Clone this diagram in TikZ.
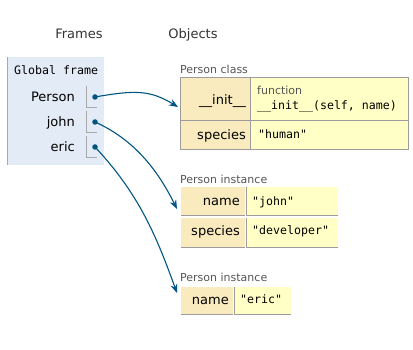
\documentclass[tikz,border=0pt]{standalone}
\usepackage{fontspec}
\setmainfont{DejaVu Sans}
\newfontfamily\codefont{DejaVu Sans Mono}
\usetikzlibrary{arrows.meta}
\definecolor{framebg}{HTML}{E2EBF6}
\definecolor{keybg}{HTML}{FAEBBF}
\definecolor{valbg}{HTML}{FFFFC6}
\definecolor{gridgrey}{HTML}{9C9C9C}
\definecolor{slotgrey}{HTML}{A8A8A8}
\definecolor{refblue}{HTML}{005583}
\definecolor{labelgrey}{HTML}{555555}
\definecolor{headgrey}{HTML}{333333}

\begin{document}
\begin{tikzpicture}[x=1pt,y=-1pt,
  txt/.style={inner sep=0pt, font=\fontsize{13}{15}\selectfont},
  code/.style={inner sep=0pt, font=\codefont\fontsize{11.6}{14}\selectfont},
  small/.style={inner sep=0pt, font=\fontsize{11}{13}\selectfont, text=labelgrey},
  head/.style={inner sep=0pt, font=\fontsize{13}{15}\selectfont, text=headgrey},
  cellbox/.style={rectangle, inner sep=0pt, outer sep=0pt, anchor=north west},
  keycell/.style={cellbox, fill=keybg},
  valcell/.style={cellbox, fill=valbg},
  grid/.style={draw=gridgrey, line width=1pt},
  slotline/.style={draw=slotgrey, line width=1pt},
  ref/.style={draw=refblue, line width=1.1pt, -{Stealth[length=9pt,width=7pt]}},
  dot/.style={circle, fill=refblue, inner sep=0pt, minimum size=5.5pt},
]
\useasboundingbox (0,0) rectangle (413,350);

% column headings
\node[head, anchor=base] (hframes) at (79,39) {Frames};
\node[head, anchor=base] (hobjects) at (193,39) {Objects};

% global frame
\node[cellbox, fill=framebg, minimum width=97pt, minimum height=108pt] (frame) at (7,57) {};
\draw[slotline] (frame.north west) -- (frame.south west);
\node[code, anchor=base west] (gf) at (14,75) {Global frame};

\node[txt, anchor=base east] (nperson) at (75,102) {Person};
\node[txt, anchor=base east] (njohn) at (75,127) {john};
\node[txt, anchor=base east] (neric) at (75,152) {eric};

\node[cellbox, minimum width=11pt, minimum height=22pt] (sperson) at (86,86) {};
\node[cellbox, minimum width=11pt, minimum height=22pt] (sjohn) at (86,111) {};
\node[cellbox, minimum width=11pt, minimum height=22pt] (seric) at (86,136) {};
\foreach \s in {sperson,sjohn,seric}
  \draw[slotline] (\s.north west) -- (\s.south west) -- (\s.south east);

% Person class
\node[small, anchor=base west] (lclass) at (180,74) {Person class};
\node[keycell, minimum width=70pt, minimum height=43pt] (cinitk) at (180,78) {};
\node[valcell, minimum width=158pt, minimum height=43pt] (cinitv) at (250,78) {};
\node[keycell, minimum width=70pt, minimum height=29pt] (cspk) at (180,121) {};
\node[valcell, minimum width=158pt, minimum height=29pt] (cspv) at (250,121) {};
\draw[grid] (cinitk.north west) rectangle (cspv.south east);
\draw[grid] (cinitv.north west) -- (cspv.south west);
\draw[grid] (cinitk.south west) -- (cinitv.south east);
\node[txt, anchor=base east] (kinit) at (246,105) {\_\_init\_\_};
\node[small, anchor=base west] (lfunc) at (257,95) {function};
\node[code, anchor=base west] (vinit) at (257,110) {\_\_init\_\_(self, name)};
\node[txt, anchor=base east] (kspc) at (246,140) {species};
\node[code, anchor=base west] (vspc) at (258,139) {"human"};

% Person instance: john
\node[small, anchor=base west] (linst1) at (180,184) {Person instance};
\node[keycell, minimum width=64pt, minimum height=29pt] (jnk) at (181,187) {};
\node[valcell, minimum width=92pt, minimum height=29pt] (jnv) at (246,187) {};
\node[keycell, minimum width=64pt, minimum height=30pt] (jsk) at (181,218) {};
\node[valcell, minimum width=92pt, minimum height=30pt] (jsv) at (246,218) {};
\draw[grid] (jnk.south west) -- (jnk.south east);
\draw[grid] (jnv.south west) -- (jnv.south east);
\draw[grid] (jnv.north west) -- (jnv.south west);
\draw[grid] (jsk.south west) -- (jsk.south east);
\draw[grid] (jsv.south west) -- (jsv.south east);
\draw[grid] (jsv.north west) -- (jsv.south west);
\node[txt, anchor=base east] (jkname) at (240,206) {name};
\node[code, anchor=base west] (jvname) at (252,206) {"john"};
\node[txt, anchor=base east] (jkspc) at (240,236) {species};
\node[code, anchor=base west] (jvspc) at (252,235) {"developer"};

% Person instance: eric
\node[small, anchor=base west] (linst2) at (180,282) {Person instance};
\node[keycell, minimum width=52pt, minimum height=28pt] (enk) at (181,287) {};
\node[valcell, minimum width=57pt, minimum height=28pt] (env) at (234,287) {};
\draw[grid] (enk.south west) -- (enk.south east);
\draw[grid] (env.south west) -- (env.south east);
\draw[grid] (env.north west) -- (env.south west);
\node[txt, anchor=base east] (ekname) at (229,305) {name};
\node[code, anchor=base west] (evname) at (240,304) {"eric"};

% references
\coordinate (tperson) at (178,107);
\coordinate (tjohn) at (177,209);
\coordinate (teric) at (177,293);
\node[dot] (dperson) at (95,97) {};
\node[dot] (djohn) at (95,122) {};
\node[dot] (deric) at (95,147) {};
\draw[ref] (dperson.center) .. controls (135,90) and (150,90) .. (tperson);
\draw[ref] (djohn.center) .. controls (140,142) and (162,179) .. (tjohn);
\draw[ref] (deric.center) .. controls (140,195) and (157,238) .. (teric);
\end{tikzpicture}
\end{document}
